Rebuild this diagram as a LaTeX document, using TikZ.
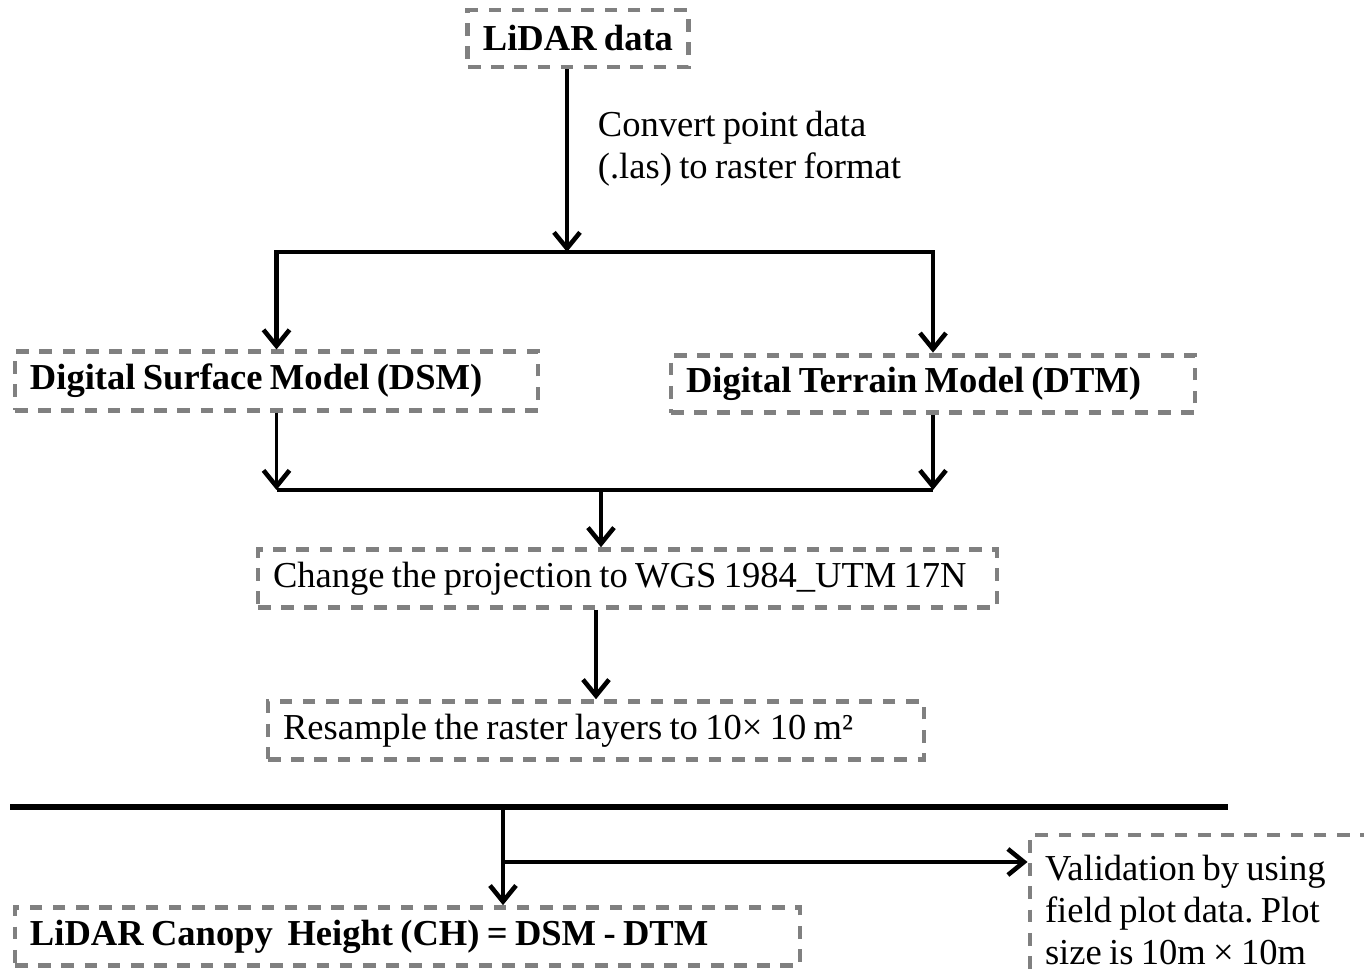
\documentclass[tikz,border=0pt]{standalone}
\usepackage{fontspec}
\setmainfont{Liberation Serif}[Scale=1.04, WordSpace=0.8]
\frenchspacing
\usetikzlibrary{arrows.meta}

\tikzset{
  box/.style={rectangle, draw=gray, line width=1.4pt, dash pattern=on 3.6pt off 3pt,
    minimum height=0.57cm, inner xsep=0.15cm, align=flush left},
  arr/.style={line width=1.1pt, -{Straight Barb[length=1.6mm, width=2.6mm, line width=1.3pt]}},
}

\begin{document}
\begin{tikzpicture}
  \useasboundingbox (0,0) rectangle (13.64,9.78);

  % boxes
  \node[box, minimum width=2.16cm] (lidar) at(5.78,9.395){\textbf{LiDAR data}};
  \node[box, minimum width=5.23cm, text width=4.93cm] (dsm) at(2.765,5.97){\textbf{Digital Surface Model (DSM)}};
  \node[box, minimum width=5.24cm, text width=4.94cm] (dtm) at(9.33,5.94){\textbf{Digital Terrain Model (DTM)}};
  \node[box, minimum width=7.39cm, text width=7.09cm] (proj) at(6.275,3.995){Change the projection to WGS 1984\_UTM 17N};
  \node[box, minimum width=6.56cm, text width=6.26cm] (resamp) at(5.96,2.475){Resample the raster layers to 10× 10 m²};
  \node[box, minimum width=7.85cm, text width=7.55cm] (chm) at(4.075,0.415){\textbf{LiDAR Canopy\ \ Height (CH) = DSM - DTM}};
  \node[box, minimum width=3.4cm, minimum height=1.5cm, text width=3.1cm] (valid) at(12.0,0.68){Validation by using\\field plot data. Plot\\size is 10m × 10m};

  % raster conversion
  \coordinate (split) at(5.67,7.26);
  \node[anchor=west, align=left] (conv) at(5.85,8.29){Convert point data\\(.las) to raster format};
  \draw[arr] (lidar.south -| split) -- (split);
  \draw[arr, line width=1.4pt] (split) -| (dsm.north);
  \draw[arr, line width=1.4pt] (split) -| (dtm.north);

  % merge
  \coordinate (merge) at(6.01,4.88);
  \draw[arr] (dsm.south) -- (dsm.south |- merge);
  \draw[arr] (dtm.south) -- (dtm.south |- merge);
  \draw[line width=1.4pt] (dsm.south |- merge) -- (dtm.south |- merge);
  \draw[arr] (merge) -- (merge |- proj.north);
  \draw[arr] (proj.south -| resamp.north) -- (resamp.north);

  % canopy height
  \coordinate (sepL) at(0.10,1.71);
  \coordinate (sepR) at(12.28,1.71);
  \coordinate (tap) at(5.03,1.71);
  \coordinate (branch) at(5.03,1.16);
  \draw[line width=1.9pt] (sepL) -- (sepR);
  \draw[arr] (tap) -- (tap |- chm.north);
  \draw[arr, line width=1.4pt] (branch) -- (branch -| valid.west);
\end{tikzpicture}
\end{document}
